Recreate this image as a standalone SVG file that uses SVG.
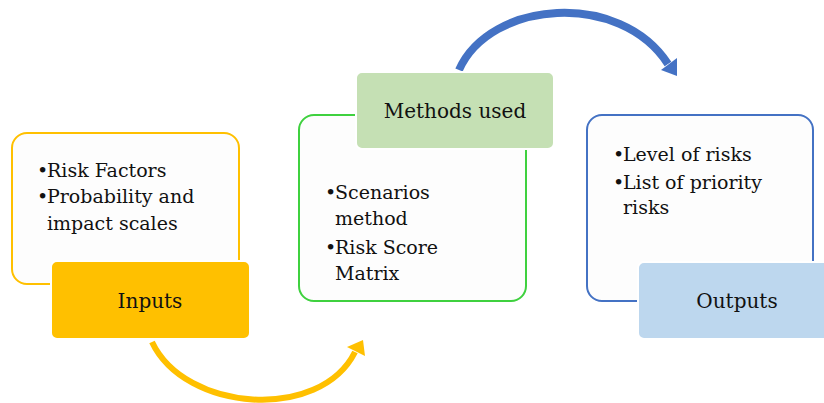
<svg xmlns="http://www.w3.org/2000/svg" width="824" height="403" viewBox="0 0 824 403">
<style>
.body{font-family:"DejaVu Serif","Liberation Serif",serif;font-size:19px;fill:#111}
.lbl{font-family:"DejaVu Serif","Liberation Serif",serif;font-size:20px;fill:#111;text-anchor:middle}
.outer{fill:#fdfdfd;stroke-width:2}
.tag{stroke:#ffffff;stroke-width:2}
</style>
<rect width="824" height="403" fill="#ffffff"/>
<g id="connectors">
<path d="M152,342 C185,412 320,422 355,352" fill="none" stroke="#FFC000" stroke-width="6"/>
<polygon points="363,340 365,356 347,347" fill="#FFC000"/>
<path d="M459,70 C490,0 620,-10 668,64" fill="none" stroke="#4472C4" stroke-width="8"/>
<polygon points="677,76 661,70 677,58" fill="#4472C4"/>
</g>
<g id="inputs">
<rect class="outer" x="12" y="133" width="227" height="151" rx="15" stroke="#FFC000"/>
<text class="body"><tspan x="37" y="177">•</tspan><tspan x="47" y="177">Risk Factors</tspan><tspan x="37" y="203">•</tspan><tspan x="47" y="203">Probability and</tspan><tspan x="47" y="230">impact scales</tspan></text>
<rect class="tag" x="51" y="261" width="199" height="78" rx="6" fill="#FFC000"/>
<text class="lbl" x="150" y="308">Inputs</text>
</g>
<g id="methods">
<rect class="outer" x="299" y="115" width="227" height="186" rx="15" stroke="#3FD13F"/>
<text class="body"><tspan x="325" y="199">•</tspan><tspan x="335" y="199">Scenarios</tspan><tspan x="335" y="225">method</tspan><tspan x="325" y="254">•</tspan><tspan x="335" y="254">Risk Score</tspan><tspan x="335" y="280">Matrix</tspan></text>
<rect class="tag" x="356" y="72" width="198" height="77" rx="6" fill="#C5E0B4"/>
<text class="lbl" x="455" y="118">Methods used</text>
</g>
<g id="outputs">
<rect class="outer" x="587" y="115" width="226" height="186" rx="15" stroke="#4472C4"/>
<text class="body"><tspan x="613" y="161">•</tspan><tspan x="623" y="161">Level of risks</tspan><tspan x="613" y="189">•</tspan><tspan x="623" y="189">List of priority</tspan><tspan x="623" y="214">risks</tspan></text>
<rect class="tag" x="638" y="262" width="198" height="77" rx="6" fill="#BDD7EE"/>
<text class="lbl" x="737" y="308">Outputs</text>
</g>
</svg>
